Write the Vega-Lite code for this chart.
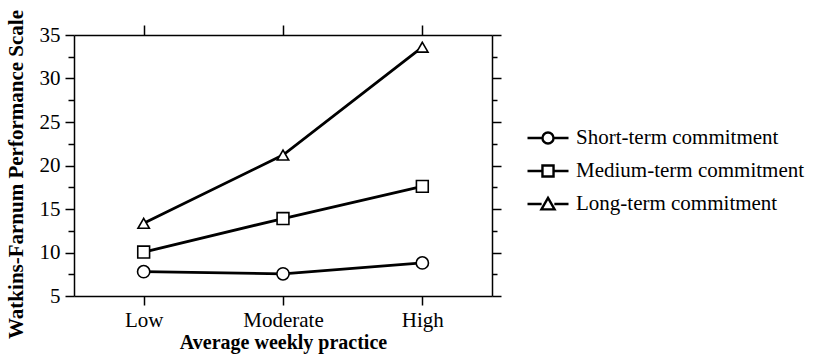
{
  "$schema": "https://vega.github.io/schema/vega-lite/v6.json",
  "width": 418,
  "height": 261,
  "autosize": {"type": "none"},
  "padding": {"left": 74, "top": 35, "right": 328, "bottom": 63},
  "background": "white",
  "config": {
    "view": {"stroke": null},
    "font": "Liberation Serif",
    "legend": {"symbolStrokeWidth": 2.4},
    "axis": {
      "domainColor": "black",
      "domainWidth": 1.5,
      "tickColor": "black",
      "tickWidth": 1.5,
      "grid": false,
      "labelFont": "Liberation Serif",
      "labelColor": "black",
      "titleFont": "Liberation Serif",
      "titleColor": "black"
    }
  },
  "data": {
    "values": [
      {"series": "Short-term commitment", "practice": "Low", "score": 7.8},
      {"series": "Short-term commitment", "practice": "Moderate", "score": 7.55},
      {"series": "Short-term commitment", "practice": "High", "score": 8.8},
      {"series": "Medium-term commitment", "practice": "Low", "score": 10.05},
      {"series": "Medium-term commitment", "practice": "Moderate", "score": 13.9},
      {"series": "Medium-term commitment", "practice": "High", "score": 17.6},
      {"series": "Long-term commitment", "practice": "Low", "score": 13.35},
      {"series": "Long-term commitment", "practice": "Moderate", "score": 21.2},
      {"series": "Long-term commitment", "practice": "High", "score": 33.6}
    ]
  },
  "layer": [
    {
      "mark": {"type": "line", "color": "black", "strokeWidth": 2.8},
      "encoding": {
        "x": {
          "field": "practice", "type": "ordinal",
          "scale": {"type": "point", "domain": ["Low", "Moderate", "High"], "padding": 0.5},
          "axis": {
            "orient": "bottom", "title": "Average weekly practice",
            "titleFontSize": 20, "titleFontWeight": "bold",
            "titleY": 52, "titleBaseline": "alphabetic",
            "labelFontSize": 21, "labelAngle": 0, "tickSize": 9, "labelPadding": 4
          }
        },
        "y": {
          "field": "score", "type": "quantitative",
          "scale": {"domain": [5, 35], "nice": false, "zero": false},
          "axis": {
            "orient": "left", "title": "Watkins-Farnum Performance Scale",
            "titleFontSize": 21, "titleFontWeight": "bold",
            "titleX": -58, "titleY": 139, "titleAngle": -90,
            "titleAlign": "center", "titleBaseline": "middle",
            "values": [5, 10, 15, 20, 25, 30, 35],
            "labelFontSize": 21, "tickSize": 9, "labelPadding": 5
          }
        },
        "detail": {"field": "series"}
      }
    },
    {
      "mark": {"type": "point", "filled": true, "fill": "white", "stroke": "black", "strokeWidth": 1.6, "opacity": 1},
      "encoding": {
        "x": {
          "field": "practice", "type": "ordinal",
          "axis": {"orient": "top", "title": null, "labels": false, "tickSize": 10}
        },
        "y": {
          "field": "score", "type": "quantitative",
          "axis": {"orient": "right", "title": null, "labels": false, "tickSize": 9, "values": [5, 10, 15, 20, 25, 30, 35]}
        },
        "shape": {
          "field": "series", "type": "nominal",
          "scale": {"domain": ["Short-term commitment", "Medium-term commitment", "Long-term commitment"], "range": ["circle", "square", "triangle-up"]},
          "legend": null
        },
        "size": {
          "field": "series", "type": "nominal",
          "scale": {"domain": ["Short-term commitment", "Medium-term commitment", "Long-term commitment"], "range": [150, 130, 220]},
          "legend": null
        }
      }
    },
    {
      "mark": {"type": "point", "filled": true, "fill": "white", "stroke": "black", "strokeWidth": 2.4, "opacity": 0},
      "encoding": {
        "x": {"field": "practice", "type": "ordinal", "axis": null},
        "y": {
          "field": "score", "type": "quantitative",
          "axis": {"orient": "left", "title": null, "labels": false, "domain": false, "tickSize": 6, "values": [7.5, 12.5, 17.5, 22.5, 27.5, 32.5]}
        },
        "shape": {
          "field": "series", "type": "nominal",
          "scale": {
            "domain": ["Short-term commitment", "Medium-term commitment", "Long-term commitment"],
            "range": [
              "M-1,0L-0.27,0M0.27,0L1,0M0.27,0A0.27,0.27 0 1 1 -0.27,0A0.27,0.27 0 1 1 0.27,0Z",
              "M-1,0L-0.27,0M0.27,0L1,0M-0.27,-0.27L0.27,-0.27L0.27,0.27L-0.27,0.27Z",
              "M-1,0L-0.31,0M0.31,0L1,0M0,-0.3L0.32,0.26L-0.32,0.26Z"
            ]
          },
          "legend": {
            "orient": "none", "legendX": 452, "legendY": 81,
            "title": null, "symbolSize": 1681, "symbolStrokeWidth": 2.4,
            "labelFont": "Liberation Serif", "labelFontSize": 21, "labelColor": "black",
            "labelLimit": 0, "labelOffset": 6, "rowPadding": -3, "padding": 0,
            "encode": {
              "symbols": {
                "update": {
                  "opacity": {"value": 1},
                  "fill": {"value": "white"},
                  "fillOpacity": {"value": 1},
                  "strokeOpacity": {"value": 1},
                  "stroke": {"value": "black"},
                  "strokeWidth": {"value": 2.4}
                }
              }
            }
          }
        }
      }
    },
    {
      "mark": {"type": "point", "opacity": 0},
      "encoding": {
        "x": {"field": "practice", "type": "ordinal", "axis": null},
        "y": {
          "field": "score", "type": "quantitative",
          "axis": {"orient": "right", "title": null, "labels": false, "domain": false, "tickSize": 5, "values": [7.5, 12.5, 17.5, 22.5, 27.5, 32.5]}
        }
      }
    }
  ],
  "resolve": {"axis": {"x": "independent", "y": "independent"}, "scale": {"shape": "independent"}}
}
